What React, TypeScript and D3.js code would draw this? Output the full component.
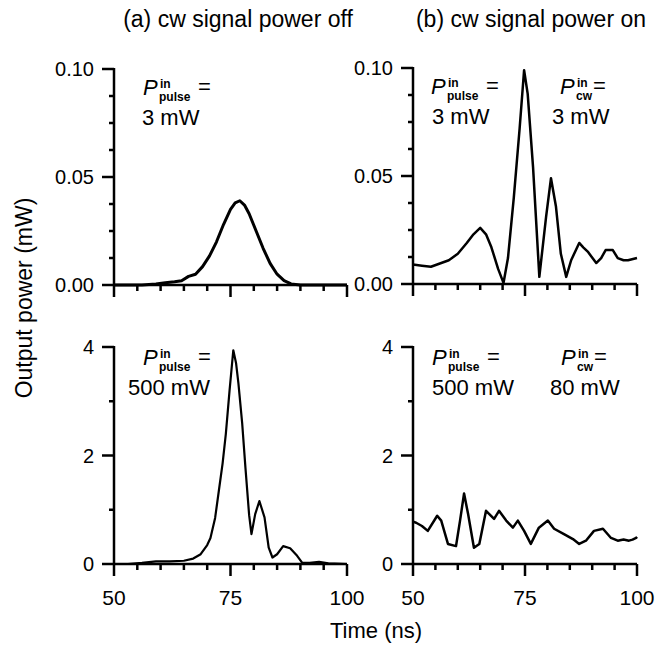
import React from "react";
import * as d3 from "d3";

// ---------- data ----------
const tlTime = [50, 53, 56, 59, 61, 63, 64.5, 66, 67.5, 69, 70.5, 72, 73.5, 75, 76, 77, 78, 79, 80.5, 82, 83.5, 85, 86.5, 88, 90, 93, 96, 100];
const tlPower = [0, 0, 0, 0.0005, 0.001, 0.0015, 0.002, 0.004, 0.005, 0.0085, 0.0135, 0.02, 0.028, 0.035, 0.038, 0.039, 0.037, 0.033, 0.025, 0.017, 0.010, 0.005, 0.002, 0.0005, 0, 0, 0, 0];

const trTime = [50, 52, 54, 56, 58, 60, 62, 63.5, 65, 66.3, 67.5, 69, 70.2, 71.2, 72.5, 73.8, 74.8, 75.6, 76.8, 78.2, 79.7, 80.8, 81.9, 83, 84.2, 85.3, 87.1, 88, 89, 90.9, 92, 93, 94.6, 95.7, 97, 98, 100];
const trPower = [0.009, 0.0085, 0.008, 0.0095, 0.011, 0.014, 0.019, 0.023, 0.026, 0.023, 0.017, 0.007, 0.0005, 0.012, 0.04, 0.072, 0.099, 0.088, 0.054, 0.0033, 0.031, 0.049, 0.036, 0.014, 0.0033, 0.011, 0.019, 0.017, 0.015, 0.0097, 0.012, 0.0157, 0.0157, 0.012, 0.011, 0.011, 0.012];

const blTime = [50, 53, 56, 59, 62, 65, 67, 68.6, 70, 70.7, 71.7, 72.5, 73.3, 74, 74.8, 75.6, 76.2, 76.7, 77.5, 78.2, 79, 79.5, 80.3, 81.2, 82.3, 83.2, 84, 85, 86.3, 87.8, 89.3, 90.4, 92, 94, 96, 100];
const blPower = [0, 0, 0.02, 0.05, 0.05, 0.06, 0.1, 0.18, 0.35, 0.48, 0.85, 1.35, 1.85, 2.4, 3.2, 3.94, 3.7, 3.33, 2.6, 1.78, 0.9, 0.55, 0.92, 1.16, 0.86, 0.3, 0.12, 0.18, 0.33, 0.29, 0.15, 0.02, 0.02, 0.04, 0.01, 0];

const brTime = [50, 50.7, 52, 53.3, 55.4, 56.3, 57.8, 59.6, 60.5, 61.4, 62.3, 63.6, 64.8, 66.3, 68.1, 69.2, 70.8, 72.3, 73.4, 74.8, 76.3, 78.1, 80.1, 81.5, 83.7, 85.7, 87.1, 88.6, 90.4, 92.4, 94.2, 95.7, 97, 98.2, 99, 99.8, 100];
const brPower = [0.78, 0.76, 0.7, 0.61, 0.89, 0.8, 0.37, 0.33, 0.8, 1.3, 0.92, 0.3, 0.37, 0.98, 0.83, 0.98, 0.8, 0.67, 0.8, 0.61, 0.37, 0.67, 0.8, 0.65, 0.55, 0.46, 0.37, 0.43, 0.61, 0.65, 0.48, 0.43, 0.45, 0.43, 0.45, 0.48, 0.5];

const xMajorTicks = [50, 75, 100];
const xMinorTicks = [55, 60, 65, 70, 80, 85, 90, 95];
const yTopMajor = [0, 0.05, 0.1];
const yTopMajorLabels = ["0.00", "0.05", "0.10"];
const yTopMinor = [0.0125, 0.025, 0.0375, 0.0625, 0.075, 0.0875];
const yBotMajor = [0, 2, 4];
const yBotMajorLabels = ["0", "2", "4"];
const yBotMinor = [1, 3];

const titles = ["(a) cw signal power off", "(b) cw signal power on"];
const xTitle = "Time (ns)";
const yTitle = "Output power (mW)";

const FONT = "'Liberation Sans', Arial, Helvetica, sans-serif";

type PanelProps = {
  x0: number; x1: number; yb: number; yt: number;
  ydomain: [number, number];
  time: number[]; power: number[];
  yMajor: number[]; yLabels: string[]; yMinor: number[];
  xLabels: boolean; lineWidth: number;
};

function Panel(p: PanelProps) {
  const x = d3.scaleLinear().domain([50, 100]).range([p.x0, p.x1]);
  const y = d3.scaleLinear().domain(p.ydomain).range([p.yb, p.yt]);
  const pts: [number, number][] = p.time.map((t, i) => [t, p.power[i]]);
  const line = d3.line<[number, number]>().x(d => x(d[0])).y(d => y(d[1]));
  return (
    <g>
      <path d={line(pts) || ""} fill="none" stroke="#000" strokeWidth={p.lineWidth} strokeLinejoin="round" />
      <line x1={p.x0} x2={p.x1} y1={p.yb} y2={p.yb} stroke="#000" strokeWidth={2.5} />
      <line x1={p.x0} x2={p.x0} y1={p.yb} y2={p.yt - 1} stroke="#000" strokeWidth={2.5} />
      {xMajorTicks.map(t => (
        <line key={"xM" + t} x1={x(t)} x2={x(t)} y1={p.yb} y2={p.yb + 12} stroke="#000" strokeWidth={2.5} />
      ))}
      {xMinorTicks.map(t => (
        <line key={"xm" + t} x1={x(t)} x2={x(t)} y1={p.yb} y2={p.yb + 6} stroke="#000" strokeWidth={2.5} />
      ))}
      {p.yMajor.map(v => (
        <line key={"yM" + v} x1={p.x0 - 12} x2={p.x0} y1={y(v)} y2={y(v)} stroke="#000" strokeWidth={2.5} />
      ))}
      {p.yMinor.map(v => (
        <line key={"ym" + v} x1={p.x0 - 5} x2={p.x0} y1={y(v)} y2={y(v)} stroke="#000" strokeWidth={2.5} />
      ))}
      {p.yMajor.map((v, i) => (
        <text key={"yl" + v} x={p.x0 - 20} y={y(v)} dy="0.36em" textAnchor="end" fontSize={20} fontFamily={FONT}>{p.yLabels[i]}</text>
      ))}
      {p.xLabels && xMajorTicks.map(t => (
        <text key={"xl" + t} x={x(t)} y={p.yb + 41} textAnchor="middle" fontSize={21} fontFamily={FONT}>{String(t)}</text>
      ))}
    </g>
  );
}

function PLabel({ x, y, sub, value, vx }: { x: number; y: number; sub: string; value: string; vx: number }) {
  return (
    <g fontFamily={FONT}>
      <text x={x} y={y} fontSize={22} fontStyle="italic">P</text>
      <text x={x + 17} y={y - 7} fontSize={12} fontWeight="bold">in</text>
      <text x={x + 16} y={y + 6} fontSize={12} fontWeight="bold">{sub}</text>
      <text x={sub === "cw" ? x + 33 : x + 55} y={y - 1} fontSize={22}>=</text>
      <text x={vx} y={y + 30} fontSize={22}>{value}</text>
    </g>
  );
}

export default function App() {
  return (
    <svg width={664} height={647} style={{ position: "absolute", left: 0, top: 0, background: "#fff" }}>
      <rect x={0} y={0} width={664} height={647} fill="#fff" />
      <text x={238} y={27} textAnchor="middle" fontSize={23} fontFamily={FONT}>{titles[0]}</text>
      <text x={531} y={27} textAnchor="middle" fontSize={23} fontFamily={FONT}>{titles[1]}</text>

      <Panel x0={114} x1={347} yb={285} yt={69} ydomain={[0, 0.1]} time={tlTime} power={tlPower}
        yMajor={yTopMajor} yLabels={yTopMajorLabels} yMinor={yTopMinor} xLabels={false} lineWidth={3} />
      <Panel x0={413} x1={637} yb={284} yt={68} ydomain={[0, 0.1]} time={trTime} power={trPower}
        yMajor={yTopMajor} yLabels={yTopMajorLabels} yMinor={yTopMinor} xLabels={false} lineWidth={2.5} />
      <Panel x0={114} x1={347} yb={564} yt={347} ydomain={[0, 4]} time={blTime} power={blPower}
        yMajor={yBotMajor} yLabels={yBotMajorLabels} yMinor={yBotMinor} xLabels={true} lineWidth={2.2} />
      <Panel x0={413} x1={637} yb={564} yt={347} ydomain={[0, 4]} time={brTime} power={brPower}
        yMajor={yBotMajor} yLabels={yBotMajorLabels} yMinor={yBotMinor} xLabels={true} lineWidth={2.5} />

      <PLabel x={143} y={95} sub="pulse" value="3 mW" vx={142} />
      <PLabel x={431} y={94} sub="pulse" value="3 mW" vx={432} />
      <PLabel x={560} y={94} sub="cw" value="3 mW" vx={552} />
      <PLabel x={143} y={365} sub="pulse" value="500 mW" vx={128} />
      <PLabel x={432} y={365} sub="pulse" value="500 mW" vx={432} />
      <PLabel x={561} y={365} sub="cw" value="80 mW" vx={550} />

      <text x={376} y={638} textAnchor="middle" fontSize={22} fontFamily={FONT}>{xTitle}</text>
      <text transform="translate(32,298) rotate(-90)" textAnchor="middle" fontSize={23} fontFamily={FONT}>{yTitle}</text>
    </svg>
  );
}
